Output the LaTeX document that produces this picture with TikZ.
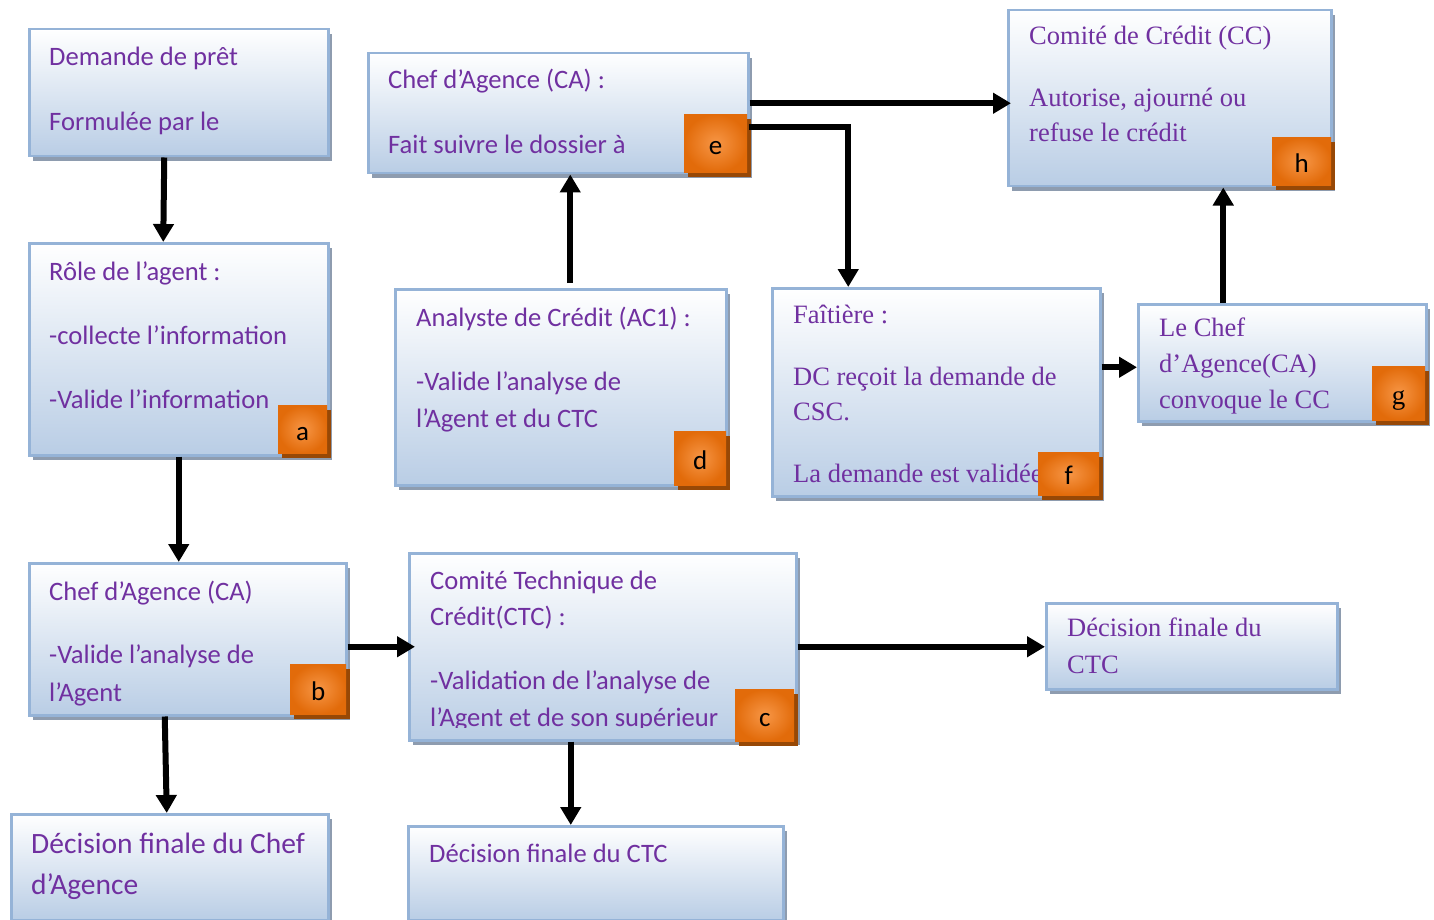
\documentclass[tikz,border=0pt]{standalone}
\usepackage{fontspec}
\newfontfamily\calfont{Carlito}
\newfontfamily\tmsfont{Liberation Serif}
\usetikzlibrary{shadows,arrows.meta}
\definecolor{purp}{HTML}{7030A0}
\definecolor{boxborder}{HTML}{95B3D7}
\definecolor{boxblue}{HTML}{B9CDE5}
\definecolor{shadowc}{HTML}{8E9CAF}
\definecolor{badgeout}{HTML}{E26B0A}
\definecolor{badgein}{HTML}{F79646}
\definecolor{badgesh}{HTML}{974806}
\tikzset{
  panel/.style={draw=boxborder, line width=2.5pt, top color=white, bottom color=boxblue,
    anchor=north west, inner sep=0pt,
    general shadow={fill=shadowc, shadow xshift=4pt, shadow yshift=-5pt}},
  badge/.style={anchor=north west, inner sep=0pt, shading=radial, inner color=badgein,
    outer color=badgeout, text height=22pt, text depth=0pt, text=black,
    font=\calfont\fontsize{27}{27}\selectfont,
    general shadow={fill=badgesh, shadow xshift=4pt, shadow yshift=-5pt}},
  ctext/.style={anchor=base west, inner sep=0pt, text=purp, font=\calfont\fontsize{26.6}{32}\selectfont},
  ttext/.style={anchor=base west, inner sep=0pt, text=purp, font=\tmsfont\fontsize{26.5}{32}\selectfont},
  arr/.style={line width=6pt, -{Triangle[length=18pt,width=20pt]}}
}
\begin{document}
\begin{tikzpicture}[x=1pt,y=-1pt]
\useasboundingbox (0,0) rectangle (1434,920);
% boxes
\node[panel, minimum width=299pt, minimum height=127pt] (demande) at (28,28) {};
\node[panel, minimum width=299pt, minimum height=212pt] (role) at (28,242) {};
\node[panel, minimum width=317pt, minimum height=152pt] (caB) at (28,562) {};
\node[panel, minimum width=317pt, minimum height=106pt] (decChef) at (10,813) {};
\node[panel, minimum width=380pt, minimum height=120pt] (caE) at (367,52) {};
\node[panel, minimum width=331pt, minimum height=196pt] (analyste) at (394,288) {};
\node[panel, minimum width=328pt, minimum height=208pt] (faitiere) at (771,287) {};
\node[panel, minimum width=323pt, minimum height=176pt] (comite) at (1007,9) {};
\node[panel, minimum width=288pt, minimum height=117pt] (gbox) at (1137,303) {};
\node[panel, minimum width=387pt, minimum height=187pt] (ctc) at (408,552) {};
\node[panel, minimum width=291pt, minimum height=86pt] (decR) at (1045,602) {};
\node[panel, minimum width=375pt, minimum height=94pt] (decB) at (407,825) {};
% texts
\node[ctext] (t11) at (49,66) {Demande de prêt};
\node[ctext] (t12) at (49,131) {Formulée par le};
\node[ctext] (t21) at (49,280) {Rôle de l’agent :};
\node[ctext] (t22) at (49,344) {-collecte l’information};
\node[ctext] (t23) at (49,408) {-Valide l’information};
\node[ctext] (t31) at (49,600) {Chef d’Agence (CA)};
\node[ctext] (t32) at (49,663) {-Valide l’analyse de};
\node[ctext] (t33) at (49,701) {l’Agent};
\node[ctext, font=\calfont\fontsize{29.5}{35}\selectfont] (t41) at (31,853) {Décision finale du Chef};
\node[ctext, font=\calfont\fontsize{29.5}{35}\selectfont] (t42) at (31,894) {d’Agence};
\node[ctext] (t51) at (388,89) {Chef d’Agence (CA) :};
\node[ctext] (t52) at (388,154) {Fait suivre le dossier à};
\node[ctext] (t61) at (416,326) {Analyste de Crédit (AC1) :};
\node[ctext] (t62) at (416,390) {-Valide l’analyse de};
\node[ctext] (t63) at (416,427) {l’Agent et du CTC};
\node[ttext] (t71) at (793,323) {Faîtière :};
\node[ttext] (t72) at (793,385) {DC reçoit la demande de};
\node[ttext] (t73) at (793,420) {CSC.};
\node[ttext] (t74) at (793,482) {La demande est validée};
\node[ttext] (t81) at (1029,45) {Comité de Crédit (CC)};
\node[ttext] (t82) at (1029,107) {Autorise, ajourné ou};
\node[ttext] (t83) at (1029,142) {refuse le crédit};
\node[ttext] (t91) at (1159,336) {Le Chef};
\node[ttext] (t92) at (1159,372) {d’Agence(CA)};
\node[ttext] (t93) at (1159,408) {convoque le CC};
\node[ctext] (t101) at (430,589) {Comité Technique de};
\node[ctext] (t102) at (430,625) {Crédit(CTC) :};
\node[ctext] (t103) at (430,689) {-Validation de l’analyse de};
\begin{scope}
\clip (408,552) rectangle (795,727);
\node[ctext] (t104) at (430,726) {l’Agent et de son supérieur};
\end{scope}
\node[ttext] (t111) at (1067,636) {Décision finale du};
\node[ttext] (t112) at (1067,673) {CTC};
\node[ctext] (t121) at (429,862) {Décision finale du CTC};
% badges
\node[badge, minimum width=49pt, minimum height=48pt] (ba) at (278,405) {a};
\node[badge, minimum width=56pt, minimum height=50pt] (bb) at (290,664) {b};
\node[badge, minimum width=59pt, minimum height=52pt] (bc) at (735,689) {c};
\node[badge, minimum width=52pt, minimum height=54pt] (bd) at (674,431) {d};
\node[badge, minimum width=63pt, minimum height=58pt] (be) at (684,114) {e};
\node[badge, minimum width=61pt, minimum height=43pt] (bf) at (1038,452) {f};
\node[badge, minimum width=53pt, minimum height=54pt, font=\tmsfont\fontsize{27}{27}\selectfont] (bg) at (1372,366) {g};
\node[badge, minimum width=59pt, minimum height=48pt] (bh) at (1272,137) {h};
% helper coordinates
\coordinate (g-in) at ([yshift=-4.5pt]gbox.west);
\coordinate (g-up) at ([xshift=-59pt]gbox.north);
\coordinate (e-out) at ([xshift=2pt,yshift=16pt]be.east);
\coordinate (f-in) at ([xshift=-88pt]faitiere.north);
\coordinate (a-up) at ([xshift=9.5pt,yshift=5pt]analyste.north);
\coordinate (c-down) at ([xshift=-32pt]ctc.south);
\coordinate (ca-right) at ([yshift=10pt]caE.east);
\coordinate (ctc-in) at ([xshift=7pt]ctc.west);
% arrows
\draw[arr] ([xshift=-14.5pt]demande.south) -- ([xshift=-15.5pt]role.north);
\draw[arr] (role.south) -- (role.south |- caB.north);
\draw[arr] (caB.east |- ctc-in) -- (ctc-in);
\draw[arr] ([xshift=-23pt]caB.south) -- ([xshift=-3pt]decChef.north);
\draw[arr] (c-down) -- (c-down |- decB.north);
\draw[arr] (ctc.east) -- (ctc.east -| decR.west);
\draw[arr] (a-up) -- (a-up |- caE.south);
\draw[arr] (ca-right) -- ([xshift=4pt]ca-right -| comite.west);
\draw[arr] (e-out) -| (f-in);
\draw[arr] (g-in -| faitiere.east) -- (g-in);
\draw[arr] (g-up) -- (g-up |- comite.south);
\end{tikzpicture}
\end{document}
